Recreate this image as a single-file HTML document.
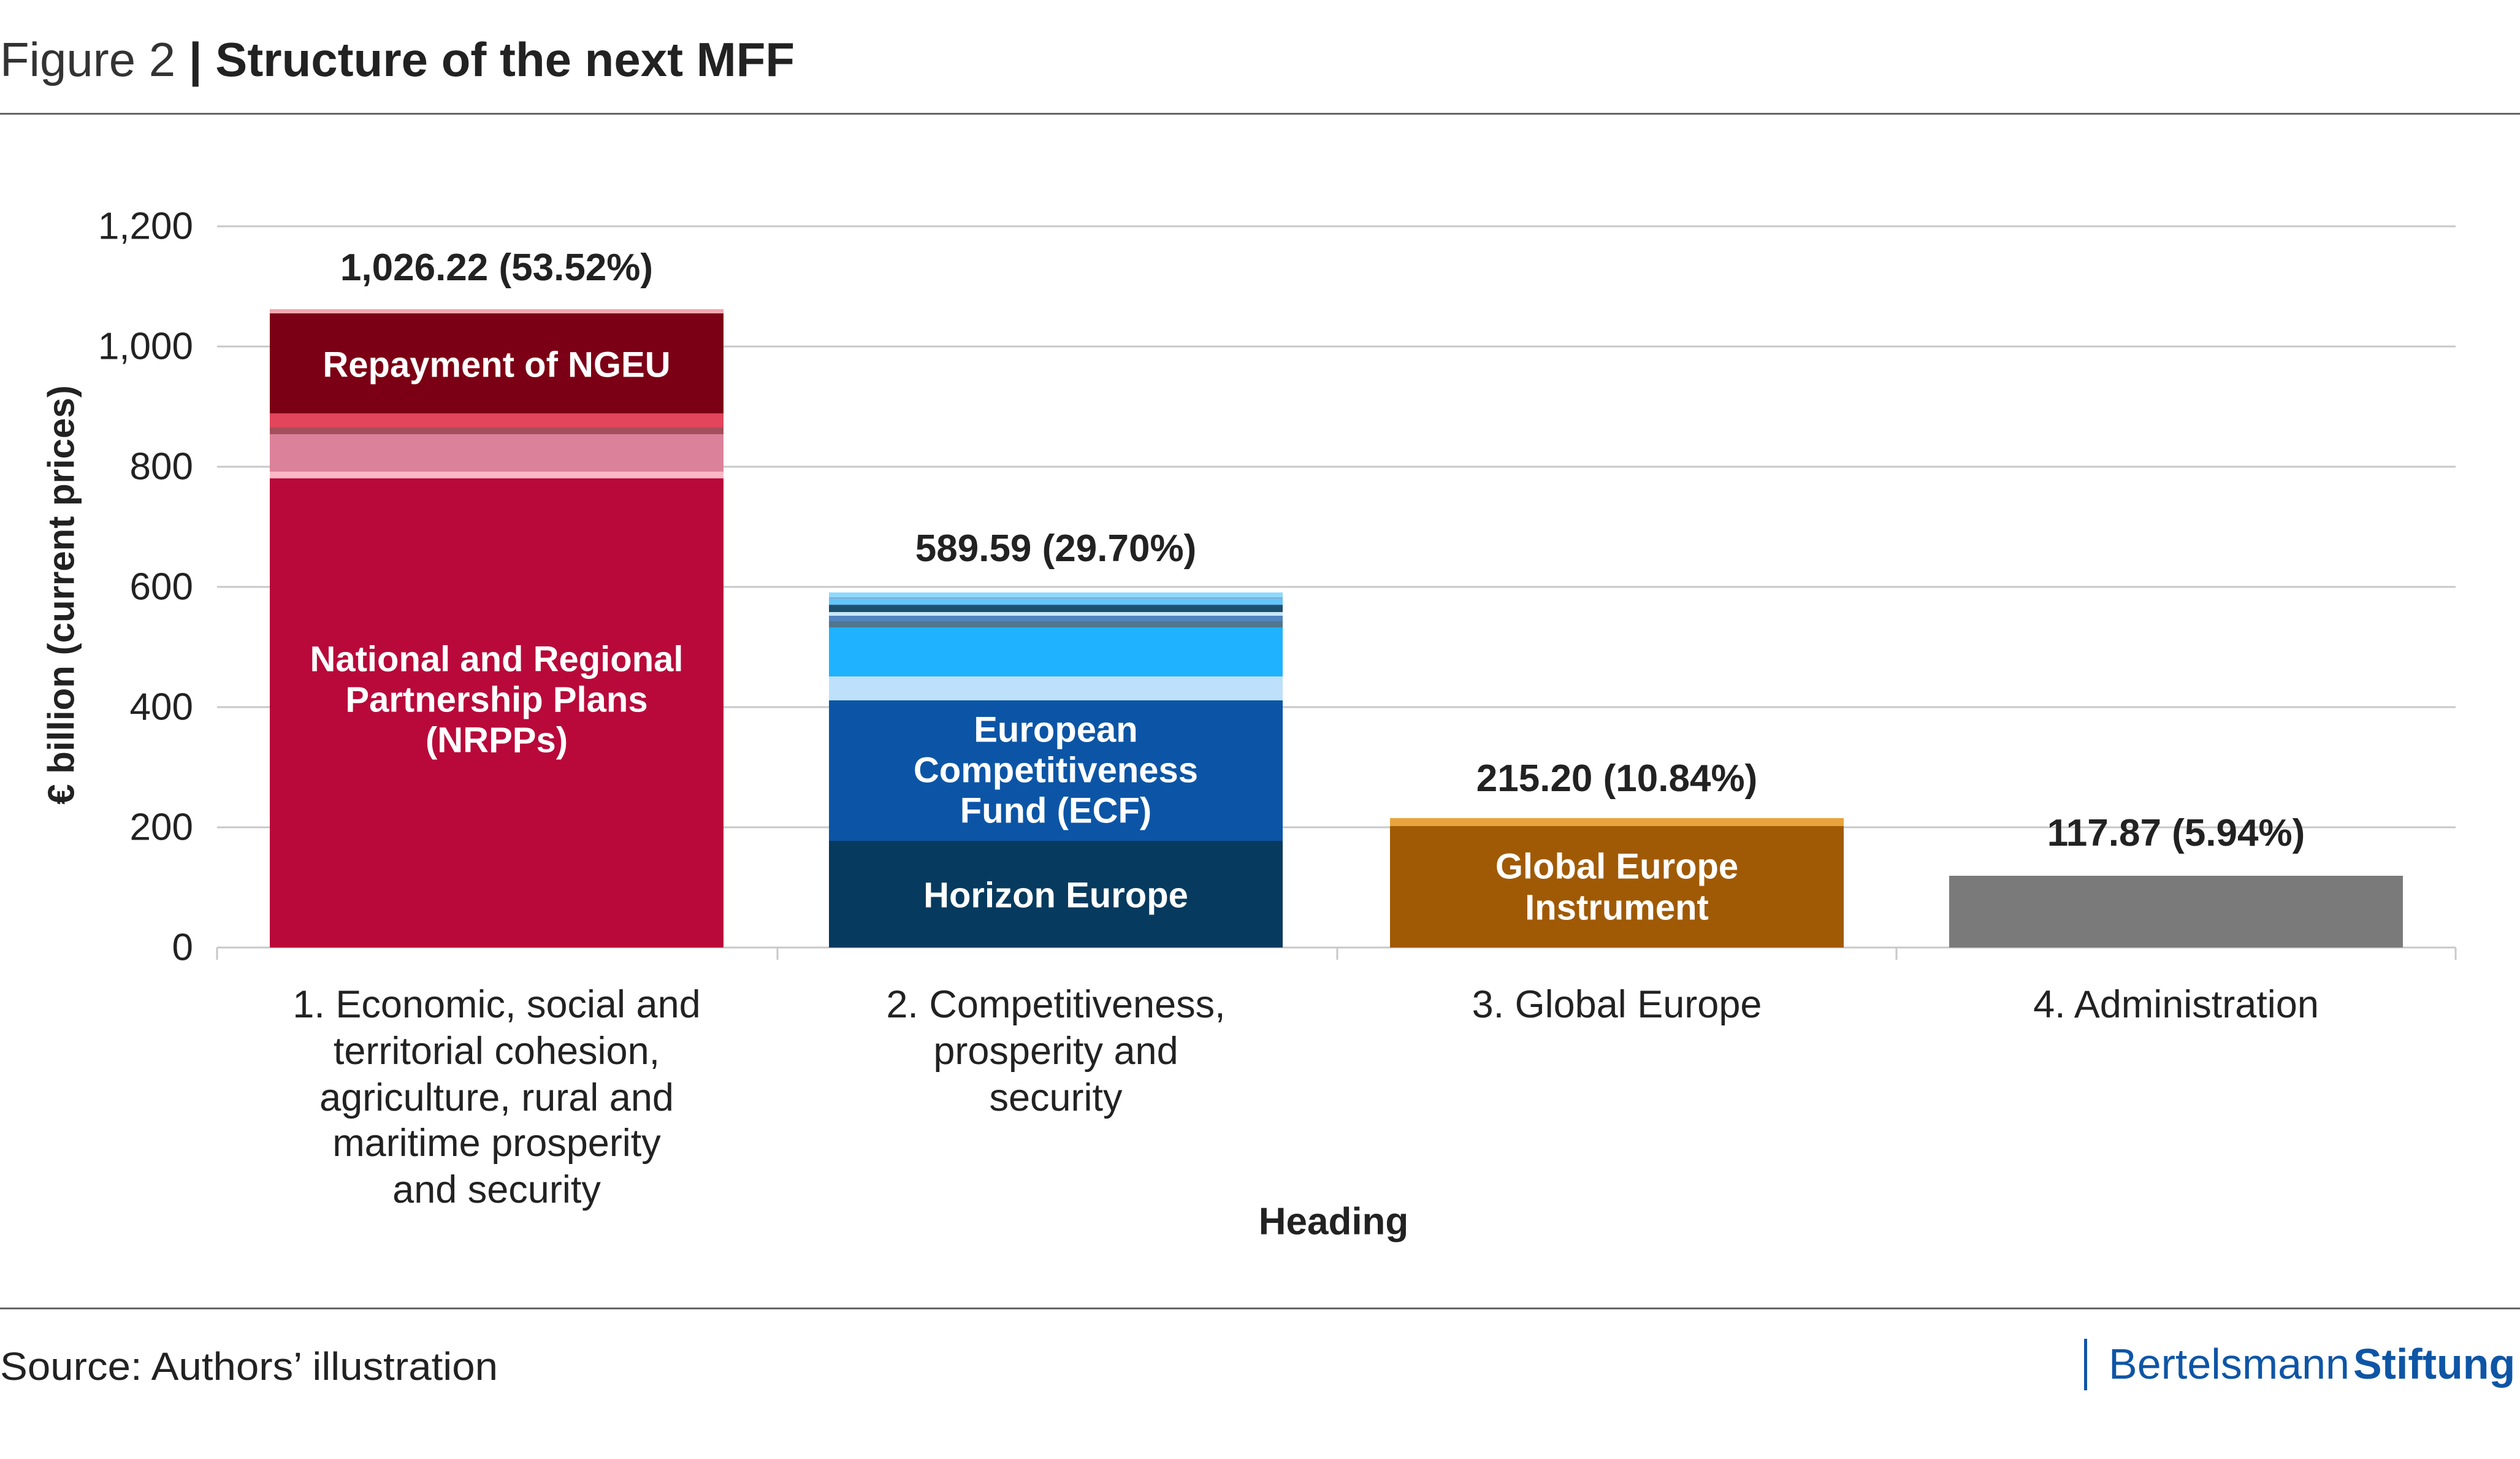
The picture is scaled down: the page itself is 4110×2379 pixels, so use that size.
<!DOCTYPE html>
<html><head><meta charset="utf-8"><style>
html,body{margin:0;padding:0;background:#fff}
svg{display:block}
text{font-family:"Liberation Sans",sans-serif}
</style></head><body>
<svg width="4110" height="2379" viewBox="0 0 4110 2379" xmlns="http://www.w3.org/2000/svg">
<text x="0" y="124" font-size="78" fill="#222"><tspan font-weight="300" fill="#333">Figure 2 </tspan><tspan font-weight="bold">| Structure of the next MFF</tspan></text>
<rect x="0" y="184" width="4110" height="3" fill="#666"/>
<g stroke="#c8c8c8" stroke-width="3">
<line x1="354" y1="369" x2="4005" y2="369"/>
<line x1="354" y1="565" x2="4005" y2="565"/>
<line x1="354" y1="761" x2="4005" y2="761"/>
<line x1="354" y1="957" x2="4005" y2="957"/>
<line x1="354" y1="1153" x2="4005" y2="1153"/>
<line x1="354" y1="1349" x2="4005" y2="1349"/>
<line x1="354" y1="1545" x2="4005" y2="1545"/>
<line x1="354" y1="1545" x2="354" y2="1565"/>
<line x1="1268" y1="1545" x2="1268" y2="1565"/>
<line x1="2181" y1="1545" x2="2181" y2="1565"/>
<line x1="3093" y1="1545" x2="3093" y2="1565"/>
<line x1="4005" y1="1545" x2="4005" y2="1565"/>
</g>
<g font-size="62" fill="#222" text-anchor="end" dominant-baseline="central">
<text x="315" y="369">1,200</text><text x="315" y="565">1,000</text><text x="315" y="761">800</text>
<text x="315" y="957">600</text><text x="315" y="1153">400</text><text x="315" y="1349">200</text><text x="315" y="1545">0</text>
</g>
<text transform="translate(100,970) rotate(-90)" font-size="60" font-weight="bold" fill="#222" text-anchor="middle" dominant-baseline="central">€ billion (current prices)</text>
<!-- bar1 -->
<rect x="440" y="504" width="740" height="7" fill="#f7a6b2"/>
<rect x="440" y="511" width="740" height="163" fill="#7c0015"/>
<rect x="440" y="674" width="740" height="23" fill="#e2455c"/>
<rect x="440" y="697" width="740" height="11" fill="#a44f5b"/>
<rect x="440" y="708" width="740" height="61" fill="#db829a"/>
<rect x="440" y="769" width="740" height="11" fill="#fbb8c5"/>
<rect x="440" y="780" width="740" height="765" fill="#b8093a"/>
<!-- bar2 -->
<rect x="1352" y="966" width="740" height="8" fill="#8fd9fd"/>
<rect x="1352" y="974" width="740" height="2" fill="#8aa8c8"/>
<rect x="1352" y="976" width="740" height="10" fill="#63c6fb"/>
<rect x="1352" y="986" width="740" height="2" fill="#345a7a"/>
<rect x="1352" y="988" width="740" height="10" fill="#1d4f6e"/>
<rect x="1352" y="998" width="740" height="6" fill="#c8e8fa"/>
<rect x="1352" y="1004" width="740" height="9" fill="#5185be"/>
<rect x="1352" y="1013" width="740" height="10" fill="#50768f"/>
<rect x="1352" y="1023" width="740" height="80" fill="#1fb2fe"/>
<rect x="1352" y="1103" width="740" height="39" fill="#bde0fb"/>
<rect x="1352" y="1142" width="740" height="229" fill="#0c55a6"/>
<rect x="1352" y="1371" width="740" height="174" fill="#063a5e"/>
<!-- bar3 -->
<rect x="2267" y="1334" width="740" height="13" fill="#e8a33d"/>
<rect x="2267" y="1347" width="740" height="198" fill="#a05a05"/>
<!-- bar4 -->
<rect x="3179" y="1428" width="740" height="117" fill="#7a7a7a"/>
<g font-size="58" font-weight="bold" fill="#fff" text-anchor="middle" dominant-baseline="central">
<text x="810" y="595">Repayment of NGEU</text>
<text x="810" y="1075">National and Regional</text>
<text x="810" y="1141">Partnership Plans</text>
<text x="810" y="1207">(NRPPs)</text>
<text x="1722" y="1190">European</text>
<text x="1722" y="1256">Competitiveness</text>
<text x="1722" y="1322">Fund (ECF)</text>
<text x="1722" y="1460">Horizon Europe</text>
<text x="2637" y="1413">Global Europe</text>
<text x="2637" y="1480">Instrument</text>
</g>
<g font-size="62" font-weight="bold" fill="#222" text-anchor="middle">
<text x="810" y="457">1,026.22 (53.52%)</text>
<text x="1722" y="915">589.59 (29.70%)</text>
<text x="2637" y="1290">215.20 (10.84%)</text>
<text x="3549" y="1379">117.87 (5.94%)</text>
</g>
<g font-size="63" fill="#222" text-anchor="middle" dominant-baseline="central">
<text x="810" y="1638">1. Economic, social and</text>
<text x="810" y="1714">territorial cohesion,</text>
<text x="810" y="1790">agriculture, rural and</text>
<text x="810" y="1864">maritime prosperity</text>
<text x="810" y="1940">and security</text>
<text x="1722" y="1638">2. Competitiveness,</text>
<text x="1722" y="1714">prosperity and</text>
<text x="1722" y="1790">security</text>
<text x="2637" y="1638">3. Global Europe</text>
<text x="3549" y="1638">4. Administration</text>
</g>
<text x="2175" y="1992" font-size="62" font-weight="bold" fill="#222" text-anchor="middle" dominant-baseline="central">Heading</text>
<rect x="0" y="2132" width="4110" height="3" fill="#666"/>
<text x="0" y="2250" font-size="64" fill="#222" textLength="812" lengthAdjust="spacingAndGlyphs">Source: Authors’ illustration</text>
<rect x="3399" y="2183" width="5" height="84" fill="#0e55a6"/>
<text x="3439" y="2248" font-size="70" fill="#0e55a6"><tspan>Bertelsmann</tspan><tspan font-weight="bold" dx="6">Stiftung</tspan></text>
</svg>
</body></html>
